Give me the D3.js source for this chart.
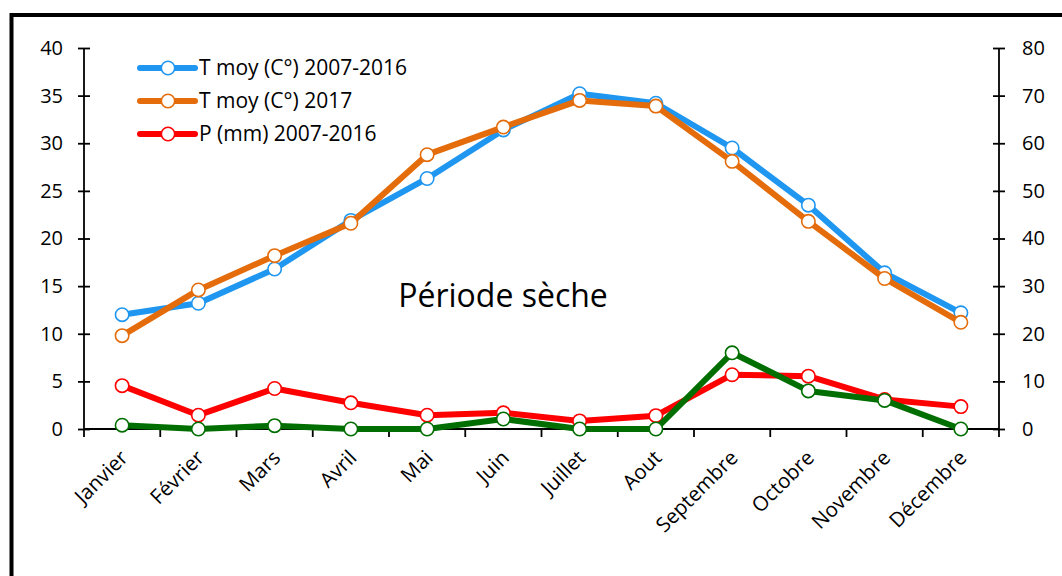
<!DOCTYPE html>
<html>
<head>
<meta charset="utf-8">
<script src="https://cdn.jsdelivr.net/npm/d3@7"></script>
<style>
  body { margin: 0; background: #fff; }
  svg text { font-family: "Open Sans", sans-serif; fill: #000; }
</style>
</head>
<body>
<div id="chart"></div>
<script>
var months = ["Janvier", "Février", "Mars", "Avril", "Mai", "Juin", "Juillet", "Aout",
    "Septembre", "Octobre", "Novembre", "Décembre"];

// temperatures, left axis (°C)
var tMoyRef = [12.0, 13.2, 16.8, 21.9, 26.3, 31.4, 35.2, 34.2, 29.5, 23.5, 16.4, 12.2];
var tMoy2017 = [9.8, 14.6, 18.2, 21.6, 28.8, 31.7, 34.5, 33.9, 28.1, 21.8, 15.8, 11.2];
// precipitation, right axis (mm)
var pRef = [9.1, 2.9, 8.5, 5.5, 2.9, 3.4, 1.7, 2.8, 11.4, 11.1, 6.2, 4.7];
var p2017 = [0.8, 0, 0.7, 0, 0, 2.1, 0, 0, 16.0, 8.0, 6.0, 0];

var leftTicks = [0, 5, 10, 15, 20, 25, 30, 35, 40];
var rightTicks = [0, 10, 20, 30, 40, 50, 60, 70, 80];

var series = [
    { name: "T moy (C°) 2007-2016", values: tMoyRef, axis: "left", color: "#1f96f0", legend: true },
    { name: "T moy (C°) 2017", values: tMoy2017, axis: "left", color: "#e46c0a", legend: true },
    { name: "P (mm) 2007-2016", values: pRef, axis: "right", color: "#ff0000", legend: true },
    { name: "P (mm) 2017", values: p2017, axis: "right", color: "#006e00", legend: false }
];

var width = 1062, height = 576;
var margin = { top: 48, right: 63, bottom: 147, left: 84 };
var innerW = width - margin.left - margin.right,
    innerH = height - margin.top - margin.bottom;

var svg = d3.select("#chart").append("svg")
    .attr("width", width)
    .attr("height", height);

// outer frame (cut off at the right and bottom)
svg.append("rect")
    .attr("x", 11.5)
    .attr("y", 15)
    .attr("width", 1100)
    .attr("height", 700)
    .attr("fill", "none")
    .attr("stroke", "#000")
    .attr("stroke-width", 4);

var g = svg.append("g")
    .attr("transform", "translate(" + margin.left + "," + margin.top + ")");

var x = d3.scaleBand()
    .domain(months)
    .range([0, innerW]);

var yL = d3.scaleLinear().domain([0, 40]).range([innerH, 0]);
var yR = d3.scaleLinear().domain([0, 80]).range([innerH, 0]);

// left axis
var leftAxis = g.append("g")
    .call(d3.axisLeft(yL).tickValues(leftTicks).tickSize(6).tickPadding(15));
leftAxis.selectAll(".tick line").attr("x2", 6).attr("x1", -6);

// right axis
var rightAxis = g.append("g")
    .attr("transform", "translate(" + innerW + ",0)")
    .call(d3.axisRight(yR).tickValues(rightTicks).tickSize(6).tickPadding(17));
rightAxis.selectAll(".tick line").attr("x1", -6).attr("x2", 6);

[leftAxis, rightAxis].forEach(function(a) {
    a.select(".domain").remove();
    a.append("line")
        .attr("y1", 0).attr("y2", innerH)
        .attr("stroke", "#000").attr("stroke-width", 1.8);
    a.selectAll(".tick line").attr("stroke", "#000").attr("stroke-width", 1.8);
    a.selectAll(".tick text")
        .style("font-size", "20px")
        .style("font-family", "Open Sans, sans-serif")
        .attr("fill", "#000");
});

// x axis: ticks between categories
var xAxis = g.append("g").attr("transform", "translate(0," + innerH + ")");
xAxis.append("line")
    .attr("x1", 0).attr("x2", innerW)
    .attr("stroke", "#000").attr("stroke-width", 1.8);
xAxis.selectAll(".sep")
    .data(d3.range(months.length + 1))
    .enter().append("line")
    .attr("x1", function(i) { return i * x.step(); })
    .attr("x2", function(i) { return i * x.step(); })
    .attr("y1", 0).attr("y2", 8)
    .attr("stroke", "#000").attr("stroke-width", 1.8);
xAxis.selectAll(".lab")
    .data(months)
    .enter().append("text")
    .attr("transform", function(d) {
        return "translate(" + (x(d) + x.bandwidth() / 2 + 7) + ",30) rotate(-45)";
    })
    .attr("text-anchor", "end")
    .style("font-size", "20.5px")
    .text(function(d) { return d; });

var cx = function(d, i) { return x(months[i]) + x.bandwidth() / 2; };

// "Période sèche"
g.append("text")
    .attr("x", 503 - margin.left)
    .attr("y", 307 - margin.top)
    .attr("text-anchor", "middle")
    .style("font-size", "32px")
    .text("Période sèche");

// lines and markers
series.forEach(function(s) {
    var yS = s.axis === "left" ? yL : yR;
    var line = d3.line()
        .x(cx)
        .y(function(d) { return yS(d); });
    g.append("path")
        .datum(s.values)
        .attr("d", line)
        .attr("fill", "none")
        .attr("stroke", s.color)
        .attr("stroke-width", 6)
        .attr("stroke-linejoin", "round");
    g.selectAll(null)
        .data(s.values)
        .enter().append("circle")
        .attr("cx", cx)
        .attr("cy", function(d) { return yS(d); })
        .attr("r", 6.7)
        .attr("fill", "#fff")
        .attr("stroke", s.color)
        .attr("stroke-width", 1.6);
});

// legend
var legend = svg.append("g").attr("transform", "translate(140,68)");
series.filter(function(s) { return s.legend; }).forEach(function(s, i) {
    var row = legend.append("g").attr("transform", "translate(0," + (i * 33) + ")");
    row.append("line")
        .attr("x1", 0).attr("x2", 55)
        .attr("stroke", s.color).attr("stroke-width", 6)
        .attr("stroke-linecap", "round");
    row.append("circle")
        .attr("cx", 28).attr("cy", 0).attr("r", 6.7)
        .attr("fill", "#fff").attr("stroke", s.color).attr("stroke-width", 1.6);
    row.append("text")
        .attr("x", 59).attr("y", 0).attr("dy", "0.35em")
        .style("font-size", "21px")
        .text(s.name);
});
</script>
</body>
</html>
